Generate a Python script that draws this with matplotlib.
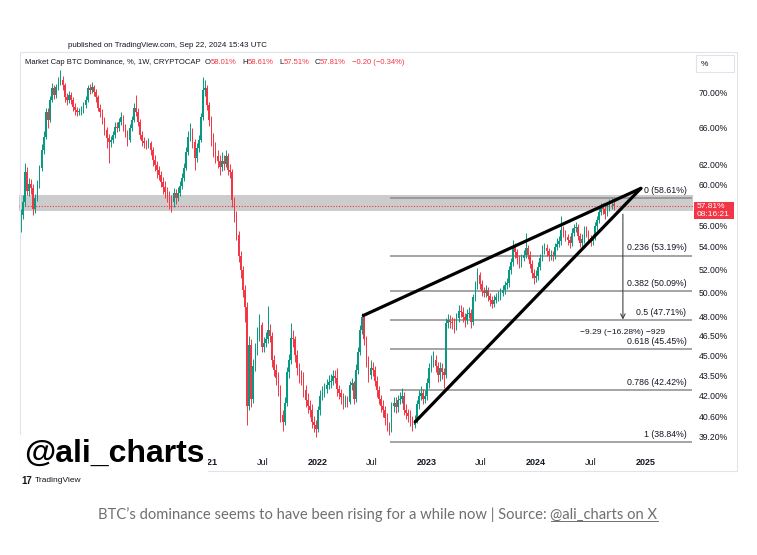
import matplotlib
matplotlib.use("Agg")
import matplotlib.pyplot as plt
import matplotlib.dates as mdates
import numpy as np
import pandas as pd
from matplotlib.patches import Rectangle
from matplotlib.lines import Line2D

# weekly candles, BTC dominance (%)
first_week = "2019-04-15"
first_open = 56.5
closes = [
    57.0, 58.2, 61.3, 59.3, 60.0, 59.6, 57.6, 58.6, 60.0, 61.7,
    63.6, 65.0, 67.8, 66.9, 69.2, 70.6, 69.8, 70.7, 71.3, 71.6,
    70.9, 69.5, 69.2, 69.8, 69.2, 68.4, 68.0, 67.8, 67.9, 68.0,
    68.6, 69.2, 70.6, 70.35, 70.7, 70.1, 69.5, 68.3, 67.8, 66.9,
    65.8, 64.9, 64.4, 64.7, 65.2, 66.1, 66.0, 66.7, 67.2, 66.0,
    65.5, 64.7, 66.0, 66.9, 68.3, 67.8, 66.7, 65.2, 64.5, 64.3,
    64.2, 64.3, 63.6, 62.5, 62.0, 61.5, 61.0, 60.2, 59.7, 59.2,
    58.8, 58.4, 58.2, 59.1, 58.6, 59.1, 59.8, 60.7, 61.7, 63.4,
    65.0, 65.7, 64.4, 62.7, 63.8, 64.7, 67.2, 70.35, 70.6, 68.6,
    66.9, 64.7, 63.5, 62.9, 62.4, 61.8, 62.4, 62.1, 62.9, 61.5,
    61.3, 58.4, 57.0, 55.1, 53.2, 51.9, 50.2, 48.8, 41.3, 45.8,
    41.8, 44.2, 45.4, 46.5, 47.3, 45.6, 45.9, 46.2, 46.9, 46.5,
    44.6, 43.9, 43.3, 42.5, 40.65, 40.2, 41.5, 43.7, 44.6, 46.3,
    46.2, 45.0, 44.0, 43.4, 43.3, 42.4, 41.7, 41.3, 41.0, 40.2,
    40.0, 39.7, 41.0, 42.0, 42.3, 42.5, 42.8, 43.0, 43.1, 43.4,
    43.3, 42.5, 42.2, 41.9, 41.6, 41.7, 41.6, 42.75, 42.9, 41.8,
    43.9, 45.2, 46.9, 48.0, 46.2, 44.6, 43.5, 44.0, 43.9, 43.1,
    42.4, 41.8, 41.3, 41.0, 40.45, 40.0, 39.7, 41.3, 41.5, 41.2,
    41.7, 41.8, 42.0, 41.0, 40.8, 40.6, 40.3, 40.0, 40.3, 41.4,
    42.0, 42.2, 41.8, 42.0, 42.9, 44.0, 44.5, 44.6, 44.2, 43.5,
    44.0, 43.7, 43.5, 47.5, 47.7, 47.6, 47.5, 47.2, 47.9, 48.5,
    48.4, 48.0, 47.7, 48.2, 48.3, 47.55, 49.6, 50.6, 51.5, 50.75,
    50.1, 50.0, 50.2, 49.7, 49.4, 49.05, 49.4, 49.6, 49.7, 50.0,
    50.2, 50.6, 50.8, 51.9, 52.6, 54.0, 53.5, 53.0, 52.6, 53.0,
    53.25, 53.9, 53.25, 52.5, 51.7, 51.2, 51.4, 52.2, 53.0, 53.8,
    53.9, 53.6, 53.15, 53.25, 53.15, 54.0, 54.3, 54.5, 55.6, 55.3,
    54.9, 54.6, 54.4, 55.3, 55.7, 55.8, 55.0, 54.4, 54.7, 55.5,
    55.3, 54.8, 54.5, 54.8, 55.9, 56.5, 57.3, 57.7, 57.6, 57.1,
    57.7, 58.0, 58.01, 57.81,
]
highs = [
    57.6, 58.9, 62.2, 61.8, 60.6, 60.5, 60.0, 59.0, 60.4, 62.0,
    64.2, 65.6, 68.3, 68.2, 69.6, 71.2, 71.0, 71.1, 71.9, 72.8,
    72.0, 71.2, 70.0, 70.2, 70.1, 69.5, 68.8, 68.4, 68.3, 68.5,
    69.0, 69.7, 71.0, 71.1, 71.3, 71.0, 70.5, 69.8, 68.7, 68.1,
    67.2, 66.1, 65.3, 65.1, 65.7, 66.6, 66.7, 67.1, 67.8, 67.5,
    66.4, 65.8, 66.4, 67.3, 68.8, 69.8, 68.2, 67.0, 65.6, 65.0,
    64.7, 64.9, 64.6, 63.9, 63.0, 62.4, 61.9, 61.4, 60.8, 60.3,
    59.7, 59.3, 58.9, 59.6, 59.5, 59.7, 60.3, 61.2, 62.2, 63.9,
    65.6, 66.5, 66.0, 64.8, 64.3, 65.2, 67.7, 71.9, 71.5, 70.9,
    69.0, 67.3, 65.4, 64.4, 63.6, 63.0, 63.4, 63.0, 63.6, 63.3,
    62.1, 61.6, 58.7, 57.4, 55.5, 53.6, 52.3, 50.6, 49.2, 46.5,
    46.2, 44.7, 45.9, 47.2, 48.2, 47.6, 46.4, 46.8, 48.9, 47.4,
    46.8, 45.0, 44.3, 43.7, 42.8, 41.0, 41.9, 44.1, 45.1, 47.5,
    46.9, 46.5, 45.4, 44.4, 43.9, 43.7, 42.8, 42.2, 41.7, 41.4,
    40.6, 40.3, 41.3, 42.4, 42.7, 42.9, 43.2, 43.5, 43.6, 43.9,
    43.9, 44.0, 42.8, 42.5, 42.2, 42.1, 42.0, 43.1, 43.3, 43.1,
    44.3, 45.6, 47.3, 48.3, 48.2, 46.5, 44.9, 44.6, 44.5, 44.2,
    43.4, 42.7, 42.1, 41.7, 41.3, 40.8, 40.2, 41.6, 41.9, 41.9,
    42.1, 42.3, 42.6, 42.3, 41.4, 41.1, 41.0, 40.6, 40.7, 41.7,
    42.4, 42.7, 42.5, 42.4, 43.3, 44.4, 45.0, 45.3, 45.0, 44.5,
    44.5, 44.4, 44.0, 47.9, 48.2, 48.1, 48.0, 47.9, 48.3, 49.0,
    49.0, 48.8, 48.3, 48.6, 48.8, 48.6, 49.9, 51.0, 52.1, 51.8,
    51.1, 50.5, 50.6, 50.5, 50.0, 49.7, 49.8, 50.0, 50.1, 50.4,
    50.6, 51.0, 51.2, 52.3, 53.0, 54.6, 54.4, 53.8, 53.3, 53.4,
    53.7, 55.3, 54.2, 53.6, 52.8, 52.0, 51.9, 52.6, 53.4, 54.2,
    54.4, 54.3, 53.9, 53.7, 53.6, 54.4, 54.8, 55.0, 56.9, 55.9,
    55.6, 55.2, 55.0, 55.7, 56.1, 56.3, 56.1, 55.3, 55.2, 55.9,
    55.9, 55.6, 55.1, 55.2, 56.3, 56.9, 57.7, 58.1, 58.1, 57.9,
    58.1, 58.5, 58.6, 58.61,
]
lows = [
    55.4, 56.6, 57.9, 58.9, 58.8, 59.0, 57.0, 57.2, 58.3, 59.6,
    61.4, 63.2, 64.8, 66.0, 66.6, 68.9, 69.3, 69.4, 70.3, 71.0,
    70.3, 69.0, 68.6, 68.8, 68.7, 67.9, 67.4, 67.3, 67.4, 67.5,
    67.7, 68.3, 69.0, 69.9, 70.0, 69.7, 69.0, 67.9, 67.2, 66.4,
    65.2, 63.8, 62.2, 63.9, 64.3, 64.9, 65.5, 65.6, 66.3, 65.6,
    65.0, 64.0, 64.4, 65.7, 66.6, 67.3, 66.2, 64.8, 64.0, 63.8,
    63.7, 63.8, 63.0, 61.9, 61.4, 60.7, 60.4, 59.7, 59.0, 58.6,
    58.2, 57.6, 57.3, 57.8, 58.0, 58.3, 58.8, 59.5, 60.3, 61.5,
    63.1, 64.6, 63.8, 61.5, 62.3, 63.4, 64.4, 66.9, 69.7, 68.0,
    66.2, 64.0, 62.8, 62.2, 61.7, 61.0, 61.4, 61.5, 61.8, 61.0,
    60.7, 57.8, 56.3, 54.6, 52.6, 51.2, 49.6, 47.6, 40.0, 41.0,
    41.2, 41.5, 43.8, 45.0, 46.1, 45.2, 45.2, 45.6, 45.9, 46.0,
    44.1, 43.4, 42.8, 42.0, 40.2, 39.6, 40.0, 41.3, 43.3, 44.3,
    45.6, 44.5, 43.5, 42.9, 42.8, 41.9, 41.2, 40.8, 40.5, 39.8,
    39.5, 39.2, 39.5, 40.7, 41.7, 41.9, 42.2, 42.5, 42.6, 42.8,
    42.9, 42.0, 41.8, 41.4, 41.1, 41.2, 41.2, 41.4, 42.4, 41.4,
    41.6, 43.6, 45.0, 46.6, 45.8, 44.1, 43.0, 43.2, 43.4, 42.7,
    41.9, 41.4, 40.9, 40.5, 40.0, 39.6, 39.3, 39.5, 40.9, 40.8,
    40.9, 41.4, 41.5, 40.7, 40.4, 40.2, 39.9, 39.6, 39.8, 40.1,
    41.1, 41.7, 41.4, 41.5, 41.7, 42.6, 43.7, 44.1, 43.7, 43.0,
    43.1, 43.2, 42.6, 43.3, 47.1, 47.1, 47.0, 46.7, 46.9, 47.6,
    48.0, 47.6, 47.2, 47.4, 47.9, 47.1, 47.3, 49.3, 50.3, 50.3,
    49.7, 49.6, 49.6, 49.3, 48.9, 48.7, 48.8, 49.1, 49.3, 49.4,
    49.7, 49.9, 50.3, 50.5, 51.6, 52.3, 53.0, 52.5, 52.1, 52.2,
    52.7, 53.0, 52.9, 52.1, 51.2, 50.7, 50.9, 51.1, 51.9, 52.7,
    53.4, 53.2, 52.7, 52.8, 52.7, 52.9, 53.7, 54.0, 54.2, 54.9,
    54.5, 54.2, 53.9, 54.1, 55.0, 55.4, 54.6, 54.0, 54.1, 54.4,
    54.9, 54.4, 54.1, 54.2, 54.6, 55.6, 56.2, 57.0, 57.1, 56.6,
    56.9, 57.4, 57.6, 57.51,
]

# drawings on the chart
zone_low, zone_high = 57.37, 58.95
last_price = 57.81
fib_ratios = ["0", "0.236", "0.382", "0.5", "0.618", "0.786", "1"]
fib_values = [58.61, 53.19, 50.09, 47.71, 45.45, 42.42, 38.84]
fib_start, fib_end = "2022-09-01", "2025-06-05"
wedge_upper = [("2022-06-03", 48.1), ("2024-12-16", 59.6)]
wedge_lower = [("2022-11-23", 40.2), ("2024-12-16", 59.6)]
measure_date, measure_from, measure_to = "2024-10-17", 57.06, 47.77
measure_text = "\u22129.29 (\u221216.28%) \u2212929"

ytick_values = [70, 66, 62, 60, 56, 54, 52, 50, 48, 46.5, 45, 43.5, 42, 40.6, 39.2]
xtick_dates = ["2021-01-01", "2021-07-01", "2022-01-01", "2022-07-01", "2023-01-01",
               "2023-07-01", "2024-01-01", "2024-07-01", "2025-01-01"]
xtick_labels = ["2021", "Jul", "2022", "Jul", "2023", "Jul", "2024", "Jul", "2025"]

UP = "#089981"
DOWN = "#f23645"
TXT = "#131722"
FONT = "Liberation Sans"

W, H = 757, 555


def fx(px):
    return px / W


def fy(py):
    return 1 - py / H


def dnum(s):
    return mdates.date2num(pd.Timestamp(s))


plt.rcParams["font.family"] = [FONT, "DejaVu Sans"]

fig = plt.figure(figsize=(W / 100, H / 100), dpi=100)
fig.patch.set_facecolor("white")
ax = fig.add_axes([fx(19), fy(450), fx(693) - fx(19), fy(53) - fy(450)])

# candles
x = mdates.date2num(pd.date_range(first_week, periods=len(closes), freq="7D").to_pydatetime())
c = np.array(closes)
o = np.r_[first_open, c[:-1]]
hi = np.maximum(np.array(highs), np.maximum(o, c))
lo = np.minimum(np.array(lows), np.minimum(o, c))
cols = np.where(c >= o, UP, DOWN)
ax.vlines(x, lo, hi, colors=cols, lw=0.7, zorder=3)
ax.bar(x, np.maximum(np.abs(c - o), 0.08), bottom=np.minimum(o, c), width=5.2,
       color=cols, linewidth=0, zorder=3)

# grey zone and last price line
ax.axhspan(zone_low, zone_high, color="#c4c4c4", alpha=0.85, lw=0, zorder=1)
ax.axhline(last_price, color=DOWN, lw=0.8, ls=(0, (1, 1.5)), zorder=2)

# fib retracement
f0, f1 = dnum(fib_start), dnum(fib_end)
ax.hlines(fib_values, f0, f1, colors="#8c8c8c", lw=1.1, zorder=2)
for r, v in zip(fib_ratios, fib_values):
    ax.annotate(f"{r} ({v:.2f}%)", xy=(f1, v), xytext=(-4, 2.5), textcoords="offset points",
                ha="right", va="bottom", fontsize=6.3, color=TXT)

# rising wedge
for line in (wedge_upper, wedge_lower):
    ax.plot([dnum(d) for d, _ in line], [v for _, v in line], color="black", lw=2.3,
            solid_capstyle="round", zorder=5)

# price range measure
md = dnum(measure_date)
ax.annotate("", xy=(md, measure_to), xytext=(md, measure_from),
            arrowprops=dict(arrowstyle="->", color="#444444", lw=0.8,
                            shrinkA=0, shrinkB=0, mutation_scale=8), zorder=4)
ax.annotate(measure_text, xy=(md, measure_to), xytext=(0, -9.3), textcoords="offset points",
            ha="center", va="center", fontsize=6.1, color=TXT)

# scales
ax.set_yscale("log")
ax.set_ylim(38.34, 74.88)
d2022 = dnum("2022-01-01")
ppd = 109.5 / 365.25
ax.set_xlim(d2022 + (18 - 317) / ppd, d2022 + (693 - 317) / ppd)
ax.yaxis.tick_right()
ax.set_yticks(ytick_values)
ax.set_yticklabels([f"{v:.2f}%" for v in ytick_values])
ax.yaxis.set_minor_locator(matplotlib.ticker.NullLocator())
ax.tick_params(axis="y", length=0, pad=4, labelsize=6.2, labelcolor=TXT)
ax.set_xticks([dnum(d) for d in xtick_dates])
ax.set_xticklabels(xtick_labels)
ax.tick_params(axis="x", length=0, pad=6, labelsize=6.5, labelcolor=TXT)
for t in ax.get_xticklabels():
    if t.get_text().isdigit():
        t.set_fontweight("bold")
for s in ax.spines.values():
    s.set_visible(False)

# frame, unit box, last price tag
fig.add_artist(Rectangle((fx(20), fy(471)), fx(737) - fx(20), fy(52) - fy(471),
                         transform=fig.transFigure, fill=False, ec="#e0e3eb", lw=0.8))
fig.add_artist(Rectangle((fx(696), fy(72)), 38 / W, 17 / H, transform=fig.transFigure,
                         fc="white", ec="#e0e3eb", lw=0.8))
fig.text(fx(701), fy(64), "%", fontsize=6, color=TXT, va="center")
fig.add_artist(Rectangle((fx(694), fy(219)), 40 / W, 17 / H, transform=fig.transFigure,
                         fc=DOWN, ec="none"))
fig.text(fx(697), fy(206.5), "57.81%", fontsize=6, color="white", va="center")
fig.text(fx(697), fy(214.5), "08:16:21", fontsize=6, color="white", va="center")

# header texts
fig.text(fx(68), fy(45), "published on TradingView.com, Sep 22, 2024 15:43 UTC",
         fontsize=5.65, color=TXT, va="center")
parts = [("O", TXT, 3), ("58.01%", DOWN, 0), ("H", TXT, 4), ("58.61%", DOWN, 0),
         ("L", TXT, 4), ("57.51%", DOWN, 0), ("C", TXT, 4), ("57.81%", DOWN, 0),
         ("\u22120.20 (\u22120.34%)", DOWN, 4)]
prev = fig.text(fx(25), fy(62), "Market Cap BTC Dominance, %, 1W, CRYPTOCAP",
                fontsize=5.5, color=TXT, va="center")
for s, col, gap in parts:
    prev = ax.annotate(s, xy=(1, 0.5), xycoords=prev, xytext=(gap, 0),
                       textcoords="offset points", ha="left", va="center",
                       fontsize=5.5, color=col, annotation_clip=False)

# watermark
fig.text(fx(24), fy(462), "@ali_charts", fontsize=23, fontweight="bold", color="black",
         va="baseline", bbox=dict(boxstyle="square,pad=0.12", fc="white", ec="none"))

# tradingview logo
fig.text(fx(21), fy(481), "17", fontsize=7, fontweight="bold", color=TXT, va="center")
fig.text(fx(35), fy(481), "TradingView", fontsize=6, color=TXT, va="center")

# caption
cap_col = "#6f6f6f"
cap1 = fig.text(fx(98), fy(515), "BTC\u2019s dominance seems to have been rising for a while now | Source: ",
                fontsize=10.6, color=cap_col, va="center", family="Lato")
cap2 = ax.annotate("@ali_charts on X", xy=(1, 0.5), xycoords=cap1, xytext=(0, 0),
                   textcoords="offset points", ha="left", va="center", fontsize=10.6,
                   color=cap_col, family="Lato", annotation_clip=False)

fig.canvas.draw()
bb = cap2.get_window_extent()
fig.add_artist(Line2D([bb.x0 / W, bb.x1 / W], [(bb.y0 + 1) / H] * 2,
                      transform=fig.transFigure, color=cap_col, lw=0.7))

fig.savefig("out.png", dpi=100)
